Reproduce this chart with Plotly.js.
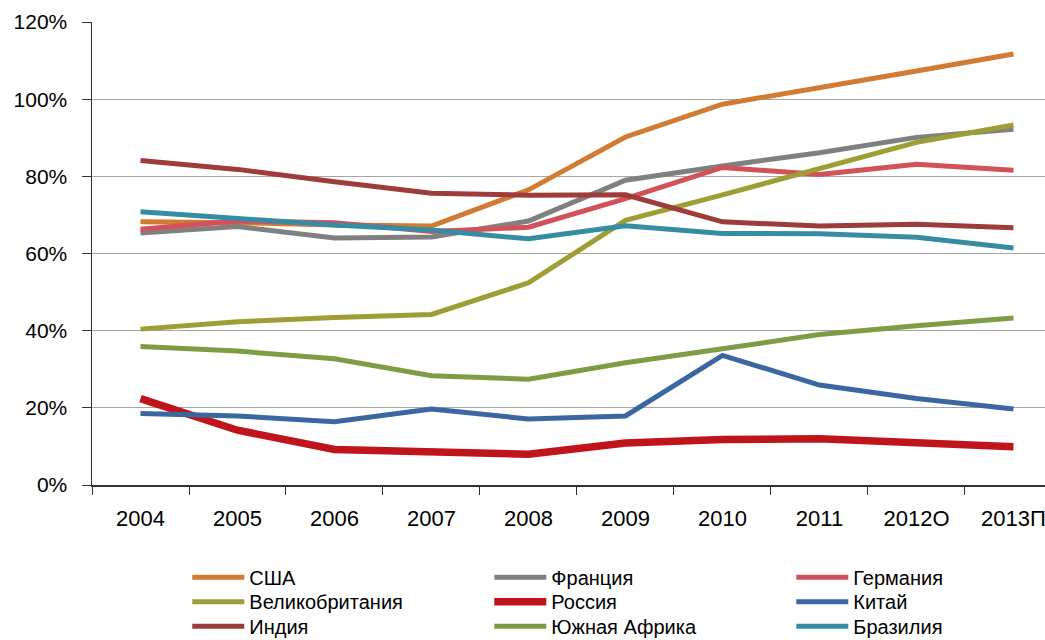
<!DOCTYPE html>
<html>
<head>
<meta charset="utf-8">
<script src="https://cdn.plot.ly/plotly-3.0.1.min.js"></script>
<style>body{margin:0;padding:0;background:#fff;}#chart{width:1045px;height:640px;}</style>
</head>
<body>
<div id="chart"></div>
<script>
const years = ["2004","2005","2006","2007","2008","2009","2010","2011","2012О","2013П"];

const usa      = [68.2, 68.0, 67.4, 67.1, 76.5, 90.2, 98.7, 102.9, 107.3, 111.7];
const france   = [65.3, 67.0, 64.0, 64.3, 68.4, 79.0, 82.7, 86.1, 90.1, 92.2];
const germany  = [66.3, 68.4, 68.0, 65.7, 66.8, 74.2, 82.3, 80.5, 83.1, 81.6];
const uk       = [40.4, 42.3, 43.4, 44.2, 52.4, 68.6, 75.2, 82.1, 88.8, 93.3];
const russia   = [22.4, 14.2, 9.2, 8.6, 8.0, 10.9, 11.8, 12.0, 10.9, 9.9];
const china    = [18.5, 17.9, 16.4, 19.7, 17.1, 17.9, 33.6, 25.9, 22.4, 19.7];
const india    = [84.1, 81.8, 78.6, 75.6, 75.1, 75.2, 68.2, 67.1, 67.6, 66.7];
const safrica  = [35.9, 34.7, 32.7, 28.3, 27.4, 31.7, 35.3, 39.0, 41.3, 43.3];
const brazil   = [70.8, 69.1, 67.4, 66.1, 63.8, 67.2, 65.2, 65.1, 64.2, 61.4];

const seriesNames = ["США","Франция","Германия","Великобритания","Россия","Китай","Индия","Южная Африка","Бразилия"];
const seriesData = [usa, france, germany, uk, russia, china, india, safrica, brazil];
const colors = ["#D27B33","#808080","#D2515A","#9E9E35","#C0141C","#3B67A0","#9D3C3B","#7E9C44","#368CA3"];
const widths = [5,5,5,5,7.5,5,5,5,5];
const legendIds = ["legend","legend","legend","legend2","legend2","legend2","legend3","legend3","legend3"];

const FONT = "'Liberation Sans', Arial, sans-serif";

const traces = seriesNames.map((n, i) => ({
  type: "scatter",
  mode: "lines",
  name: n,
  x: years,
  y: seriesData[i],
  line: {color: colors[i], width: widths[i]},
  legend: legendIds[i],
  hoverinfo: "skip"
}));

function leg(y) {
  return {
    orientation: "h",
    x: 0.1, xanchor: "left",
    y: y, yanchor: "middle",
    entrywidth: 235,
    itemwidth: 52,
    font: {family: FONT, size: 20, color: "#000"},
    bgcolor: "rgba(0,0,0,0)",
    tracegroupgap: 0
  };
}

const layout = {
  width: 1045, height: 640,
  margin: {l: 92, r: 0, t: 22, b: 155, autoexpand: false},
  paper_bgcolor: "#fff",
  plot_bgcolor: "#fff",
  showlegend: true,
  font: {family: FONT, size: 21, color: "#000"},
  xaxis: {
    type: "category",
    range: [-0.5, 9.325],
    tickson: "boundaries",
    ticks: "outside",
    ticklen: 8,
    tickwidth: 1,
    tickcolor: "#333",
    showgrid: false,
    showline: true,
    linecolor: "#333",
    linewidth: 1.5,
    tickfont: {family: FONT, size: 22, color: "#000"},
    ticklabelstandoff: 13,
    fixedrange: true
  },
  yaxis: {
    range: [0, 120],
    dtick: 20,
    ticksuffix: "%",
    ticks: "outside",
    ticklen: 9,
    tickwidth: 1,
    tickcolor: "#333",
    showgrid: true,
    gridcolor: "#A6A6A6",
    gridwidth: 1.3,
    zeroline: false,
    showline: true,
    linecolor: "#333",
    linewidth: 1.5,
    tickfont: {family: FONT, size: 21, color: "#000"},
    ticklabelstandoff: 10,
    fixedrange: true
  },
  legend: leg(-0.199),
  legend2: leg(-0.252),
  legend3: leg(-0.305)
};

Plotly.newPlot("chart", traces, layout, {displayModeBar: false, staticPlot: true});
</script>
</body>
</html>
